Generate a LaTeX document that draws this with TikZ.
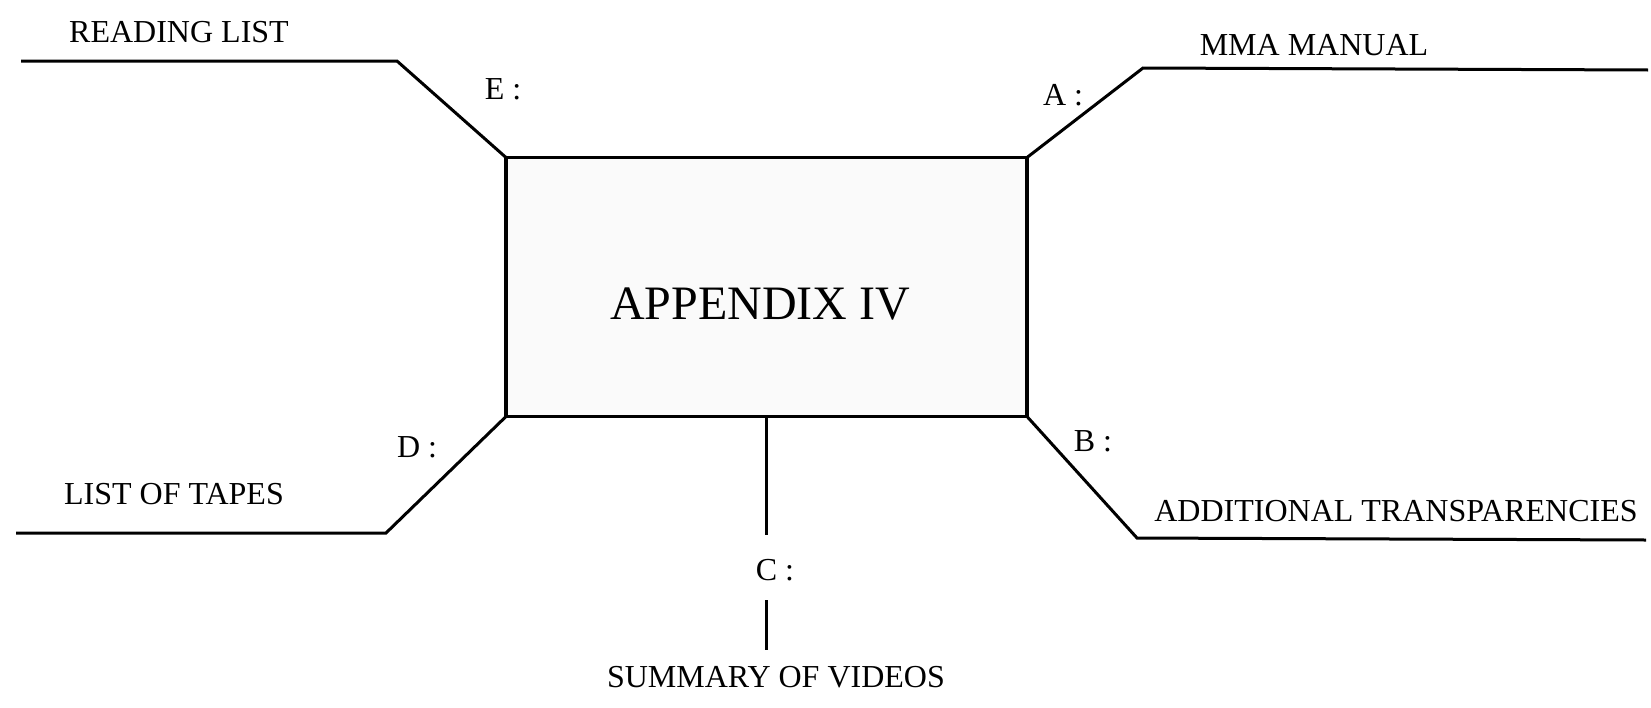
\documentclass[tikz,border=0pt]{standalone}
\usepackage{fontspec}
\setmainfont{Liberation Serif}
\usetikzlibrary{positioning}

\begin{document}
\begin{tikzpicture}[x=1pt,y=-1pt,
  box/.style={draw,line width=3.4pt,fill=black!2,outer sep=0pt,inner sep=0pt,
              minimum width=521pt,minimum height=259pt},
  leg/.style={line width=3pt,line join=miter},
  item/.style={font=\fontsize{32}{36}\selectfont,inner sep=0pt},
  tag/.style={item},
  big/.style={font=\fontsize{48}{54}\selectfont,inner sep=0pt}
]
\useasboundingbox (0,0) rectangle (1651,707);

% centre box
\node[box] (app) at (766.5,287) {};
\node[big] (apptitle) at (760,304) {APPENDIX IV};

% E: reading list
\coordinate (ebend) at (397,61);
\coordinate (eend) at (21,61);
\node[item] (ereading) at (179,32) {READING LIST};
\node[tag] (etag) at (503,89) {E :};
\draw[leg] (app.north west) -- (ebend) -- (eend);

% A: manual
\coordinate (abend) at (1143,68);
\coordinate (aend) at (1648,70);
\node[item] (amanual) at (1314,45) {MMA MANUAL};
\node[tag] (atag) at (1063,95) {A :};
\draw[leg] (app.north east) -- (abend) -- (aend);

% B: transparencies
\coordinate (bbend) at (1137,538);
\coordinate (bend) at (1646,540);
\node[item] (btrans) at (1396,511) {ADDITIONAL TRANSPARENCIES};
\node[tag] (btag) at (1093,441) {B :};
\draw[leg] (app.south east) -- (bbend) -- (bend);

% D: tapes
\coordinate (dbend) at (386,533);
\coordinate (dend) at (16,533);
\node[item] (dtapes) at (174,494) {LIST OF TAPES};
\node[tag] (dtag) at (417,447) {D :};
\draw[leg] (app.south west) -- (dbend) -- (dend);

% C: videos
\coordinate (cend) at (766.5,535);
\coordinate (cfrom) at (766.5,600);
\coordinate (cto) at (766.5,650);
\node[tag] (ctag) at (775,570) {C :};
\node[item] (cvideos) at (776,677) {SUMMARY OF VIDEOS};
\draw[leg] (app.south) -- (cend);
\draw[leg] (cfrom) -- (cto);

\end{tikzpicture}
\end{document}
